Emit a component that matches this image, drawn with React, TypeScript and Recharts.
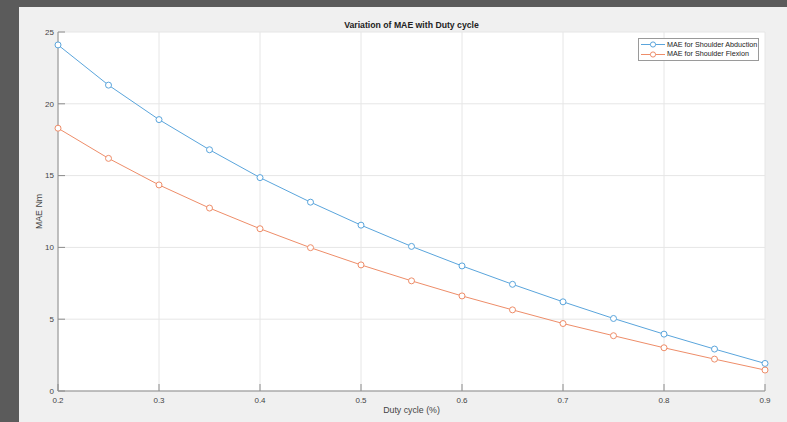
import React from 'react';
import { LineChart, Line, XAxis, YAxis, CartesianGrid, Legend } from 'recharts';

const dutyCycle = [0.2, 0.25, 0.3, 0.35, 0.4, 0.45, 0.5, 0.55, 0.6, 0.65, 0.7, 0.75, 0.8, 0.85, 0.9];
const abduction = [24.1, 21.3, 18.9, 16.8, 14.86, 13.15, 11.55, 10.07, 8.71, 7.43, 6.21, 5.05, 3.96, 2.92, 1.92];
const flexion = [18.3, 16.2, 14.35, 12.74, 11.3, 9.98, 8.78, 7.67, 6.62, 5.65, 4.7, 3.85, 3.01, 2.22, 1.46];

const xTicks = [0.2, 0.3, 0.4, 0.5, 0.6, 0.7, 0.8, 0.9];
const yTicks = [0, 5, 10, 15, 20, 25];

const chartData = dutyCycle.map((d, i) => ({
  duty: d,
  abduction: abduction[i],
  flexion: flexion[i],
}));

const axisColor = '#8c8c8c';
const textColor = '#444444';
const blue = '#5aa5dc';
const orange = '#ee8d69';

const LegendBox = (props: any) => {
  const items = props.payload || [];
  return (
    <div
      style={{
        boxSizing: 'border-box',
        width: 121,
        background: '#fff',
        border: '1px solid #9a9a9a',
        padding: '1px 0 1px 2px',
        fontSize: 7.2,
        color: '#222',
        lineHeight: '9.4px',
        whiteSpace: 'nowrap',
      }}
    >
      {items.map((item: any) => (
        <div key={item.value} style={{ display: 'flex', alignItems: 'center' }}>
          <svg width={24} height={9} style={{ marginRight: 2, flexShrink: 0 }}>
            <line x1={0} y1={4.5} x2={24} y2={4.5} stroke={item.color} strokeWidth={1} />
            <circle cx={12} cy={4.5} r={2.6} fill="#fff" stroke={item.color} strokeWidth={1} />
          </svg>
          <span>{item.value}</span>
        </div>
      ))}
    </div>
  );
};

export default function App() {
  return (
    <div
      style={{
        position: 'absolute',
        left: 0,
        top: 0,
        width: 787,
        height: 422,
        background: '#5b5b5b',
        fontFamily: '"Liberation Sans", Arial, sans-serif',
        overflow: 'hidden',
      }}
    >
      <div style={{ position: 'absolute', left: 19, top: 7, right: 0, bottom: 0, background: '#f0f0f0' }} />
      <div style={{ position: 'absolute', left: 0, top: 0 }}>
        <LineChart width={787} height={422} data={chartData} margin={{ top: 32, right: 22, bottom: 0, left: 18 }}>
          <CartesianGrid stroke="#e6e6e6" fill="#ffffff" />
          <XAxis
            dataKey="duty"
            type="number"
            domain={[0.2, 0.9]}
            ticks={xTicks}
            tickFormatter={(v: number) => v.toFixed(1)}
            height={31}
            tickSize={-7}
            tickMargin={13}
            stroke={axisColor}
            tick={{ fill: textColor, fontSize: 8 }}
            label={{ value: 'Duty cycle (%)', position: 'insideBottom', offset: 9, fill: textColor, fontSize: 8.8 }}
          />
          <XAxis
            xAxisId="top"
            dataKey="duty"
            type="number"
            orientation="top"
            domain={[0.2, 0.9]}
            ticks={xTicks}
            height={0}
            tickSize={-7}
            tick={false}
            stroke={axisColor}
          />
          <YAxis
            type="number"
            domain={[0, 25]}
            ticks={yTicks}
            width={40}
            tickSize={-7}
            tickMargin={11}
            stroke={axisColor}
            tick={{ fill: textColor, fontSize: 8 }}
            label={{
              value: 'MAE Nm',
              angle: -90,
              position: 'insideLeft',
              offset: 21,
              fill: textColor,
              fontSize: 8.8,
              style: { textAnchor: 'middle' },
            }}
          />
          <YAxis
            yAxisId="right"
            type="number"
            orientation="right"
            domain={[0, 25]}
            ticks={yTicks}
            width={0}
            tickSize={-7}
            tick={false}
            stroke={axisColor}
          />
          <Legend
            layout="horizontal"
            verticalAlign="middle"
            align="center"
            content={<LegendBox />}
            wrapperStyle={{ left: 638, top: 38, width: 121, right: 'auto', bottom: 'auto' }}
          />
          <Line
            type="linear"
            dataKey="abduction"
            name="MAE for Shoulder Abduction"
            stroke={blue}
            strokeWidth={1}
            dot={{ r: 3, fill: '#fff', stroke: blue, strokeWidth: 1 }}
            activeDot={false}
            isAnimationActive={false}
          />
          <Line
            type="linear"
            dataKey="flexion"
            name="MAE for Shoulder Flexion"
            stroke={orange}
            strokeWidth={1}
            dot={{ r: 3, fill: '#fff', stroke: orange, strokeWidth: 1 }}
            activeDot={false}
            isAnimationActive={false}
          />
        </LineChart>
      </div>
      <div
        style={{
          position: 'absolute',
          left: 58,
          top: 20,
          width: 707,
          textAlign: 'center',
          fontSize: 8.7,
          fontWeight: 'bold',
          lineHeight: '10px',
          color: '#222',
        }}
      >
        Variation of MAE with Duty cycle
      </div>
    </div>
  );
}
